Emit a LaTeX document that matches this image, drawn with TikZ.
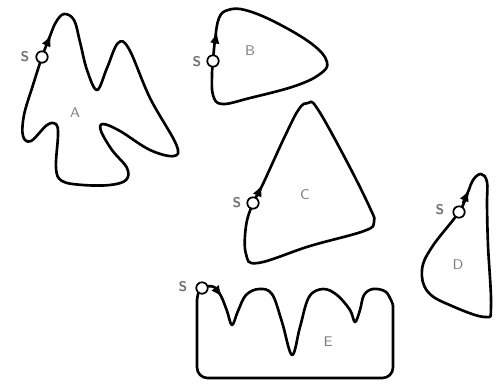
\documentclass[tikz,border=0pt]{standalone}
\usepackage{tikz}
\usetikzlibrary{arrows.meta}

\begin{document}
\begin{tikzpicture}[x=0.02cm,y=-0.02cm,>=Latex,
  outline/.style={line width=1.5pt,line join=round},
  tip/.style={-{Latex[length=6.5pt,width=5.5pt]},line width=1.5pt},
  startpt/.style={circle,draw,fill=white,line width=1pt,inner sep=0pt,minimum size=6.5pt},
  slbl/.style={font=\fontsize{8}{9}\sffamily\bfseries,text=black!55},
  lbl/.style={font=\fontsize{8}{9}\sffamily,text=black!50}]
\useasboundingbox (0,0) rectangle (500,383);
% A
\draw[outline] plot[smooth cycle,tension=0.6] coordinates {
  (42,57) (50,36) (56,22) (64,14) (74,20) (80,42) (87,70) (97,90) (107,68)
  (118,43) (129,49) (150,98) (176,144) (174,156) (150,150) (120,131)
  (103,124) (101,131) (112,150) (127,168) (126,180) (110,185) (83,185) (62,181)
  (56,168) (58,135) (56,124) (47,125) (31,141) (23,136) (24,115) (33,85)};
\draw[tip] (46,46) -- (51,35);
% B
\draw[outline] plot[smooth cycle,tension=0.65] coordinates {
  (213,61) (215,40) (219,18) (228,10) (245,10) (275,22) (312,44) (327,62)
  (320,74) (295,86) (250,98) (222,104) (213,95) (212,75)};
\draw[tip] (215,42) -- (217,32);
% C
\draw[outline] plot[smooth cycle,tension=0.65] coordinates {
  (253,203) (262,186) (285,136) (299,109) (308,103) (317,108) (345,158)
  (370,208) (374,222) (364,231) (310,246) (258,263) (246,254) (246,226)};
\draw[tip] (257,196) -- (262,185);
% D
\draw[outline] plot[smooth cycle,tension=0.65] coordinates {
  (459,212) (468,192) (473,180) (481,174) (487,182) (487,205) (488,245)
  (491,306) (485,317) (452,306) (428,292) (422,270) (432,247)};
\draw[tip] (463,203) -- (469,190);
% E
\draw[outline,rounded corners=6] (197,300) -- (197,378) -- (393,378) -- (393,305);
\draw[outline] plot[smooth,tension=0.6] coordinates {
  (197,300) (199,291) (204,287) (214,287) (221,296) (227,311) (232,325)
  (238,311) (246,295) (259,289) (272,294) (282,322) (292,355) (300,327)
  (309,297) (323,289) (337,295) (350,310) (355,322) (360,310) (364,295)
  (373,289) (386,292) (393,305)};
\draw[tip] (216,289) -- (222,297);
% start points
\node[startpt] (startA) at (42,57) {};
\node[startpt] (startB) at (213,61) {};
\node[startpt] (startC) at (253,203) {};
\node[startpt] (startD) at (459,212) {};
\node[startpt] (startE) at (202,288) {};
\node[slbl] (sA) at (25,57) {S};
\node[slbl] (sB) at (197,62) {S};
\node[slbl] (sC) at (237,203) {S};
\node[slbl] (sD) at (440,210) {S};
\node[slbl] (sE) at (183,287) {S};
\node[lbl] (lblA) at (75,113) {A};
\node[lbl] (lblB) at (250,51) {B};
\node[lbl] (lblC) at (305,195) {C};
\node[lbl] (lblD) at (458,265) {D};
\node[lbl] (lblE) at (328,342) {E};
\end{tikzpicture}
\end{document}
